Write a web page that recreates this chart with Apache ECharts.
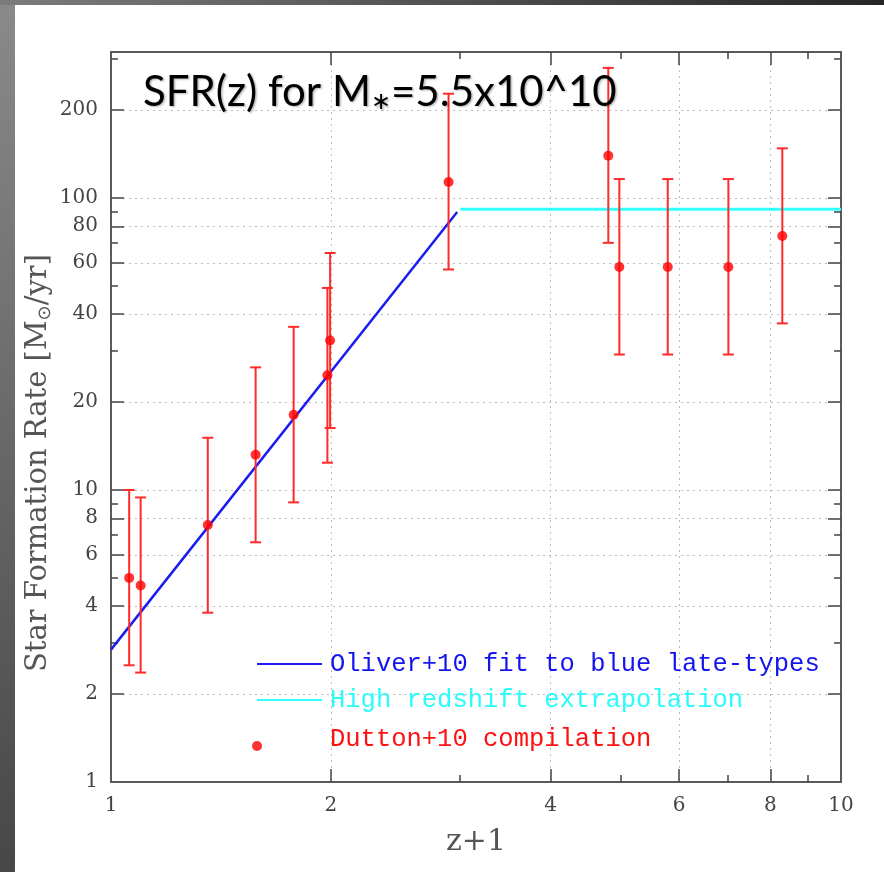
<!DOCTYPE html>
<html><head><meta charset="utf-8">
<script src="https://cdn.jsdelivr.net/npm/echarts@6/dist/echarts.min.js"></script>
<style>
html,body{margin:0;padding:0;width:884px;height:872px;overflow:hidden;background:#3a3a3a;}
#lstrip{position:absolute;left:0;top:0;width:15px;height:872px;background:linear-gradient(to bottom,#8a8a8a,#474747);}
#tstrip{position:absolute;left:0;top:0;width:884px;height:5px;background:linear-gradient(to right,#7c7c7c,#262626);}
#paper{position:absolute;left:15px;top:5px;right:0;bottom:0;background:#fff;}
#chart{position:absolute;left:0;top:0;width:884px;height:872px;}
</style></head>
<body>
<div id="lstrip"></div><div id="tstrip"></div><div id="paper"></div><div id="chart"></div>
<script>
// ---- data ----
const zPlus1   = [1.059, 1.098, 1.357, 1.578, 1.779, 1.979, 1.996, 2.90, 4.80, 4.97, 5.79, 7.01, 8.31];
const sfr      = [5.0, 4.71, 7.59, 13.2, 18.1, 24.7, 32.5, 113.5, 139.6, 58.0, 58.0, 58.0, 74.1];
const sfrLow   = [2.51, 2.37, 3.80, 6.62, 9.07, 12.4, 16.3, 56.9, 70.2, 29.1, 29.1, 29.1, 37.2];
const sfrHigh  = [10.0, 9.43, 15.1, 26.3, 36.2, 49.2, 64.8, 227.6, 279, 116.1, 116.1, 116.1, 147.9];
const fitX     = [1.0, 2.98];
const fitY     = [2.84, 89.6];
const extrapX  = [3.01, 10.0];
const extrapY  = [91.5, 91.5];

const xTickLabels = [1, 2, 4, 6, 8, 10];
const xMajorTicks = [2, 4, 6, 8];
const xMinorTicks = [3, 5, 7, 9];
const yTickLabels = [1, 2, 4, 6, 8, 10, 20, 40, 60, 80, 100, 200];
const yMajorTicks = [2, 4, 6, 8, 10, 20, 40, 60, 80, 100, 200];
const yMinorTicks = [3, 5, 7, 9, 30, 50, 70, 90, 300];

const nameFit = 'Oliver+10 fit to blue late-types';
const nameExt = 'High redshift extrapolation';
const nameDut = 'Dutton+10 compilation';

// ---- chart ----
const chart = echarts.init(document.getElementById('chart'), null, {renderer: 'canvas'});
const tickColor = '#444';
const fmt = v => String(Number(Number(v).toPrecision(6)));
const labelStyle = {show: true, fontFamily: 'DejaVu Serif', fontSize: 20, color: '#444', formatter: fmt};
const splitStyle = {show: true, lineStyle: {color: '#bcbcbc', width: 1, type: [2, 4]}};
const frame = {show: true, onZero: false, lineStyle: {color: '#5a5a5a', width: 2}};

function axis(dim, pos, ticks, len, extra) {
  const base = {
    type: 'log', logBase: 10, position: pos, gridIndex: 0,
    min: 1, max: dim === 'x' ? 10 : 316.2,
    axisLine: {show: false, onZero: false},
    axisTick: {show: true, inside: true, length: len, customValues: ticks, lineStyle: {color: tickColor, width: 1.5}},
    axisLabel: {show: false},
    splitLine: {show: false},
    minorTick: {show: false}, minorSplitLine: {show: false}
  };
  return Object.assign(base, extra || {});
}

const xData = zPlus1.map((x, i) => [x, sfr[i]]);
const errData = zPlus1.map((x, i) => [x, sfr[i], sfrLow[i], sfrHigh[i]]);
const fitData = fitX.map((x, i) => [x, fitY[i]]);
const extData = extrapX.map((x, i) => [x, extrapY[i]]);

const legendText = {fontFamily: 'Liberation Mono', fontSize: 25.5, lineHeight: 28};
const shadow = {textShadowColor: 'rgba(0,0,0,0.28)', textShadowBlur: 2, textShadowOffsetX: 1.5, textShadowOffsetY: 1.5};

chart.setOption({
  animation: false,
  backgroundColor: 'transparent',
  grid: {left: 111, top: 52, width: 730, height: 730, containLabel: false},
  title: {
    left: 143, top: 69, padding: 0,
    text: 'SFR(z) for M{s|∗}=5.5x10^10',
    textStyle: Object.assign({
      fontFamily: 'Lato', fontSize: 42, fontWeight: 'normal', color: '#000',
      rich: {s: Object.assign({fontFamily: 'DejaVu Sans', fontSize: 24, color: '#000', padding: [22, 0, 0, 0]}, shadow)}
    }, shadow)
  },
  legend: [
    {data: [{name: nameFit, icon: 'rect'}], left: 257, top: 651, padding: 0, itemWidth: 65, itemHeight: 2,
     selectedMode: false, formatter: n => '{t|' + n + '}',
     textStyle: {rich: {t: Object.assign({color: '#1414ee', padding: [0, 0, 0, 3]}, legendText)}}},
    {data: [{name: nameExt, icon: 'rect'}], left: 257, top: 687, padding: 0, itemWidth: 65, itemHeight: 2,
     selectedMode: false, formatter: n => '{t|' + n + '}',
     textStyle: {rich: {t: Object.assign({color: '#2afcfc', padding: [0, 0, 0, 3]}, legendText)}}},
    {data: [{name: nameDut, icon: 'circle'}], left: 252, top: 726, padding: 0, itemWidth: 10, itemHeight: 10,
     selectedMode: false, formatter: n => '{p|}{t|' + n + '}',
     textStyle: {rich: {p: {width: 63}, t: Object.assign({color: '#ff1010', padding: [0, 0, 14, 0]}, legendText)}}}
  ],
  xAxis: [
    axis('x', 'bottom', xMajorTicks, 13, {
      axisLine: frame, splitLine: splitStyle,
      axisLabel: Object.assign({customValues: xTickLabels, margin: 14}, labelStyle),
      name: 'z+1', nameLocation: 'middle', nameGap: 45,
      nameTextStyle: {fontFamily: 'DejaVu Serif', fontSize: 30, color: '#555'}
    }),
    axis('x', 'top', xMajorTicks, 13, {axisLine: frame}),
    axis('x', 'bottom', xMinorTicks, 7),
    axis('x', 'top', xMinorTicks, 7)
  ],
  yAxis: [
    axis('y', 'left', yMajorTicks, 13, {
      axisLine: frame, splitLine: splitStyle,
      axisLabel: Object.assign({customValues: yTickLabels, margin: 13}, labelStyle)
    }),
    axis('y', 'right', yMajorTicks, 13, {axisLine: frame}),
    axis('y', 'left', yMinorTicks, 7),
    axis('y', 'right', yMinorTicks, 7)
  ],
  graphic: [{
    type: 'text', x: 38, y: 463, rotation: Math.PI / 2,
    style: {
      text: 'Star Formation Rate [M{s|⊙}/yr]',
      fontFamily: 'DejaVu Serif', fontSize: 29, fill: '#555', align: 'center', verticalAlign: 'middle',
      rich: {s: {fontFamily: 'DejaVu Sans', fontSize: 18, fill: '#555', padding: [14, 0, 0, 0]}}
    }
  }],
  series: [
    {name: nameFit, type: 'line', xAxisIndex: 0, yAxisIndex: 0, data: fitData, symbol: 'none',
     lineStyle: {color: '#1c1cf0', width: 2.5}, itemStyle: {color: '#1c1cf0'}, z: 2},
    {name: nameExt, type: 'line', xAxisIndex: 0, yAxisIndex: 0, data: extData, symbol: 'none',
     lineStyle: {color: '#33ffff', width: 3}, itemStyle: {color: '#33ffff'}, z: 2},
    {name: 'errors', type: 'custom', xAxisIndex: 0, yAxisIndex: 0, data: errData,
     encode: {x: 0, y: [1, 2, 3]}, z: 3,
     renderItem: function (params, api) {
       const x = api.value(0), lo = api.value(2), hi = api.value(3);
       const t = api.coord([x, hi]), b = api.coord([x, lo]);
       const hw = 5.5;
       const st = {stroke: '#ff2a2a', lineWidth: 2};
       return {type: 'group', children: [
         {type: 'line', shape: {x1: t[0], y1: t[1], x2: b[0], y2: b[1]}, style: st},
         {type: 'line', shape: {x1: t[0] - hw, y1: t[1], x2: t[0] + hw, y2: t[1]}, style: st},
         {type: 'line', shape: {x1: b[0] - hw, y1: b[1], x2: b[0] + hw, y2: b[1]}, style: st}
       ]};
     }},
    {name: nameDut, type: 'scatter', xAxisIndex: 0, yAxisIndex: 0, data: xData, symbol: 'circle', symbolSize: 10,
     itemStyle: {color: '#ff0000'}, z: 4}
  ]
});
</script>
</body></html>
